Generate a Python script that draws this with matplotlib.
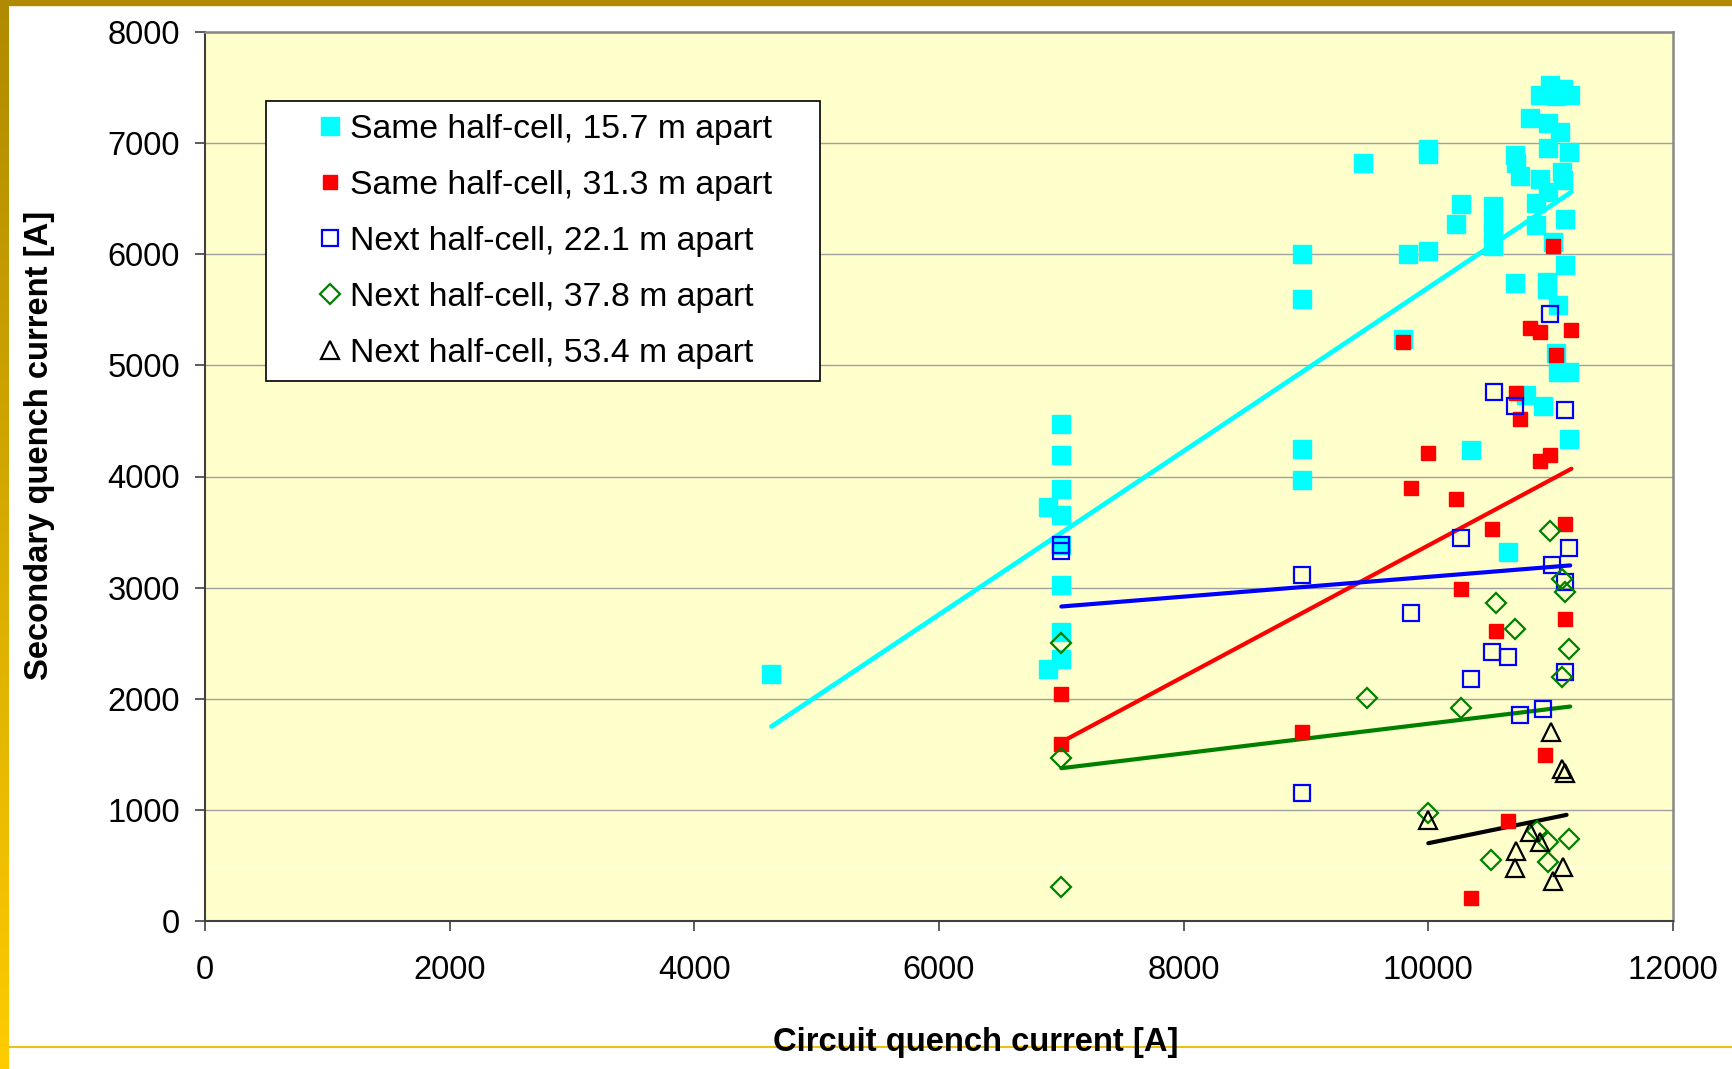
import numpy as np
import matplotlib
matplotlib.use("Agg")
import matplotlib.pyplot as plt
from matplotlib.lines import Line2D

plt.rcParams['font.family'] = ['Liberation Sans', 'DejaVu Sans']

# same half-cell, 15.7 m apart
cyan_x = [4630, 6890, 6890, 7000, 7000, 7000, 7000, 7000, 7000, 7000, 7000,
          8970, 8970, 8970, 8970, 9470, 9790, 9830, 10000, 10000, 10000,
          10230, 10270, 10350, 10530, 10530, 10530, 10530, 10650, 10710,
          10720, 10710, 10750, 10800, 10830, 10880, 10880, 10910, 10910,
          10940, 10980, 10970, 10970, 10980, 10980, 10995, 11020, 11040,
          11060, 11080, 11100, 11090, 11100, 11120, 11120, 11040, 11060,
          11150, 11150, 11160, 11150]
cyan_y = [2220, 3730, 2270, 4470, 4190, 3890, 3650, 3380, 3020, 2600, 2360,
          6000, 5600, 4250, 3970, 6825, 5240, 6000, 6950, 6900, 6030,
          6270, 6450, 4240, 6430, 6290, 6190, 6070, 3320, 6890,
          6820, 5740, 6700, 4730, 7230, 6460, 6260, 6680, 7430,
          4630, 6560, 5750, 5690, 7180, 6960, 7520, 6110, 7420,
          5540, 7100, 7490, 6740, 6670, 6320, 5900, 5110, 4940,
          4940, 6920, 7430, 4340]

# same half-cell, 31.3 m apart
red_x = [7000, 7000, 8970, 9790, 9860, 10000, 10230, 10270, 10350, 10520,
         10550, 10650, 10720, 10750, 10830, 10910, 10910, 10950, 10995,
         11020, 11040, 11120, 11120, 11170]
red_y = [2040, 1590, 1700, 5210, 3900, 4210, 3800, 2990, 210, 3530,
         2610, 900, 4750, 4520, 5340, 5300, 4140, 1490, 4190,
         6070, 5090, 3570, 2720, 5320]

# next half-cell, 22.1 m apart
blue_x = [7000, 7000, 8970, 8970, 9860, 10270, 10350, 10520, 10540, 10650,
          10710, 10750, 10940, 10995, 11010, 11120, 11120, 11120, 11150]
blue_y = [3380, 3330, 3110, 1150, 2770, 3450, 2180, 2420, 4760, 2380,
          4630, 1850, 1910, 5460, 3200, 4600, 3050, 2240, 3360]

# next half-cell, 37.8 m apart
green_x = [7000, 7000, 7000, 9500, 10000, 10270, 10510, 10550, 10710, 10890,
           10980, 10980, 10995, 11090, 11090, 11120, 11150, 11150]
green_y = [2500, 1470, 310, 2010, 975, 1920, 550, 2860, 2630, 810,
           710, 530, 3510, 3080, 2200, 2960, 2450, 740]

# next half-cell, 53.4 m apart
black_x = [10000, 10710, 10720, 10830, 10910, 11000, 11020, 11090, 11100, 11120]
black_y = [910, 480, 630, 800, 710, 1700, 360, 1370, 490, 1330]

# linear trend lines (end points)
cyan_fit_x, cyan_fit_y = [4630, 11170], [1750, 6560]
red_fit_x, red_fit_y = [7000, 11170], [1610, 4070]
blue_fit_x, blue_fit_y = [7000, 11160], [2830, 3200]
green_fit_x, green_fit_y = [7000, 11160], [1375, 1930]
black_fit_x, black_fit_y = [10000, 11130], [700, 955]

labels = ["Same half-cell, 15.7 m apart", "Same half-cell, 31.3 m apart",
          "Next half-cell, 22.1 m apart", "Next half-cell, 37.8 m apart",
          "Next half-cell, 53.4 m apart"]

W, H = 1733, 1069
fig = plt.figure(figsize=(W / 100, H / 100), dpi=100)
fig.patch.set_facecolor("white")

ax = fig.add_axes([205 / W, 1 - 921 / H, 1468 / W, 889 / H])
ax.set_facecolor("#FFFFCC")
ax.set_xlim(0, 12000)
ax.set_ylim(0, 8000)
ax.set_xticks(np.arange(0, 12001, 2000))
ax.set_yticks(np.arange(0, 8001, 1000))
ax.yaxis.grid(True, color="#A0A0A0", lw=1.0, zorder=0)
ax.set_axisbelow(True)

# faint white stripe from the slide
ax.plot([0, 1], [0.0607, 0.0607], transform=ax.transAxes, color="white",
        lw=1.0, zorder=0.5)

# trend lines
ax.plot(cyan_fit_x, cyan_fit_y, color="#00FFFF", lw=3.4, zorder=2, solid_capstyle="round")
ax.plot(red_fit_x, red_fit_y, color="#FF0000", lw=3.0, zorder=2, solid_capstyle="round")
ax.plot(blue_fit_x, blue_fit_y, color="#0000FF", lw=3.0, zorder=2, solid_capstyle="round")
ax.plot(green_fit_x, green_fit_y, color="#008000", lw=3.0, zorder=2, solid_capstyle="round")
ax.plot(black_fit_x, black_fit_y, color="black", lw=3.0, zorder=2, solid_capstyle="round")

h1, = ax.plot(cyan_x, cyan_y, ls="none", marker="s", ms=12.5, color="#00FFFF",
              mec="#00FFFF", zorder=3)
h2, = ax.plot(red_x, red_y, ls="none", marker="s", ms=10.5, color="#FF0000",
              mec="#FF0000", zorder=3)
h3, = ax.plot(blue_x, blue_y, ls="none", marker="s", ms=11.5, mfc="none",
              mec="#0000FF", mew=1.6, zorder=3)
h4, = ax.plot(green_x, green_y, ls="none", marker="D", ms=10.5, mfc="none",
              mec="#008000", mew=1.6, zorder=3)
h5, = ax.plot(black_x, black_y, ls="none", marker="^", ms=13, mfc="none",
              mec="black", mew=1.6, zorder=3)

leg = ax.legend([h1, h2, h3, h4, h5], labels, loc="upper left",
                bbox_to_anchor=(0.04155, 0.5, 0.3774, 0.4224), mode="expand",
                borderaxespad=0, fontsize=24.3, frameon=True, fancybox=False,
                framealpha=1, edgecolor="black", numpoints=1,
                borderpad=0.375, handlelength=3.05, handletextpad=-0.93,
                labelspacing=0.74)
leg.get_frame().set_linewidth(1.2)

for side in ("left", "bottom"):
    ax.spines[side].set_color("#404040")
    ax.spines[side].set_linewidth(1.5)
for side in ("top", "right"):
    ax.spines[side].set_color("#888888")
    ax.spines[side].set_linewidth(1.8)

ax.tick_params(axis="both", direction="out", length=7.5, width=1.1,
               color="#303030", labelsize=23.5)
ax.tick_params(axis="x", pad=17)
ax.tick_params(axis="y", pad=10.5)

ax.set_xlabel("Circuit quench current [A]", fontsize=23.6, fontweight="bold")
ax.set_ylabel("Secondary quench current [A]", fontsize=23.6, fontweight="bold")
ax.xaxis.set_label_coords(0.5252, -0.1192)
ax.yaxis.set_label_coords(-0.1025, 0.5354)

# slide decoration: gold frame bits
grad = np.linspace(0, 1, 256)[:, None]
c_top = np.array([176, 138, 0]) / 255
c_bot = np.array([255, 204, 0]) / 255
img = (c_top[None, None, :] * (1 - grad[:, :, None]) + c_bot[None, None, :] * grad[:, :, None])
bar = fig.add_axes([0, 0, 9 / W, 1])
bar.imshow(img, aspect="auto", interpolation="bilinear")
bar.set_axis_off()
fig.patches.append(plt.Rectangle((0, 1 - 5 / H), 1, 5 / H, transform=fig.transFigure,
                                 color="#B08A00", zorder=5))
fig.add_artist(Line2D([9 / W, 1], [1 - 1047 / H, 1 - 1047 / H], transform=fig.transFigure,
                      color="#F0C010", lw=1.5, zorder=-1))

fig.savefig("out.png", dpi=100)
